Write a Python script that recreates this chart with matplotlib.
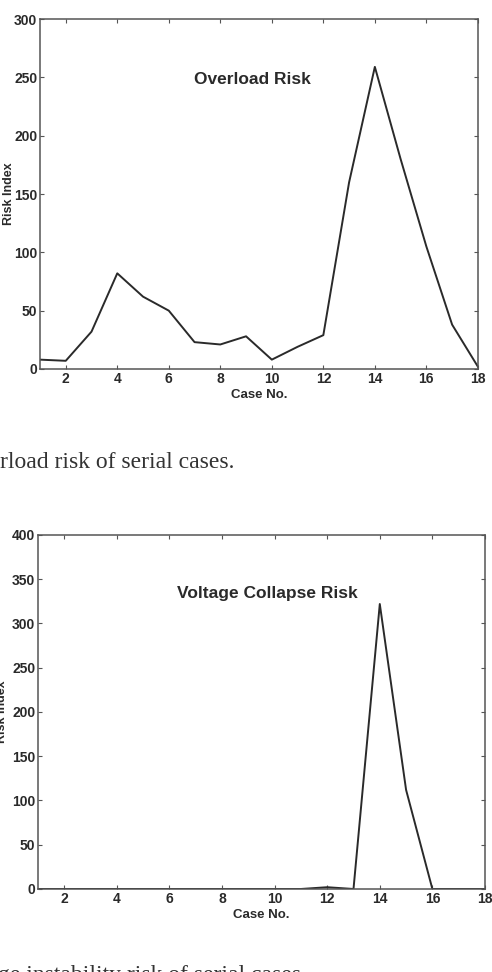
import matplotlib
matplotlib.use("Agg")
from matplotlib import pyplot as plt

# scanned figure: overload risk and voltage collapse risk per case
cases = list(range(1, 19))
overload_risk = [8, 7, 32, 82, 62, 50, 23, 21, 28, 8, 19, 29, 160, 259, 180, 105, 38, 2]
voltage_risk = [0, 0, 0, 0, 0, 0, 0, 0, 0, 0, 0, 2, 0, 322, 112, 0, 0, 0]

x_ticks = [2, 4, 6, 8, 10, 12, 14, 16, 18]
top_yticks = [0, 50, 100, 150, 200, 250, 300]
bottom_yticks = [0, 50, 100, 150, 200, 250, 300, 350, 400]

plt.rcParams["font.family"] = ["Liberation Sans", "DejaVu Sans"]

fig = plt.figure(figsize=(4.92, 9.72), dpi=100)

ink = "#2a2a2a"
frame = "#555555"


def style_axes(ax, yticks, ymax):
    ax.set_xlim(1, 18)
    ax.set_ylim(0, ymax)
    ax.set_xticks(x_ticks)
    ax.set_yticks(yticks)
    ax.tick_params(direction="in", top=True, right=True, length=3, width=0.8,
                   color=frame, labelsize=10, pad=2, labelcolor=ink)
    for lbl in ax.get_xticklabels() + ax.get_yticklabels():
        lbl.set_fontweight("bold")
    for s in ax.spines.values():
        s.set_color(frame)
        s.set_linewidth(1.1)


# top chart
ax1 = fig.add_axes([0.0813, 0.6204, 0.890, 0.360])
ax1.plot(cases, overload_risk, color=ink, linewidth=1.4)
style_axes(ax1, top_yticks, 300)
ax1.text(9.23, 248, "Overload Risk", ha="center", va="center",
         fontsize=12.5, fontweight="bold", color=ink)
ax1.set_xlabel("Case No.", fontsize=9.5, fontweight="bold", color=ink, labelpad=2)
ax1.set_ylabel("Risk Index", fontsize=9, fontweight="bold", color=ink)
ax1.yaxis.set_label_coords(-0.056, 0.5)

fig.text(0.0, 1 - 463 / 972, "rload risk of serial cases.", ha="left", va="center",
         fontsize=17, family="Liberation Serif", color="#333333")

# bottom chart
ax2 = fig.add_axes([0.0772, 0.0854, 0.9085, 0.3642])
ax2.plot(cases, voltage_risk, color=ink, linewidth=1.4)
style_axes(ax2, bottom_yticks, 400)
ax2.text(9.71, 334, "Voltage Collapse Risk", ha="center", va="center",
         fontsize=12.5, fontweight="bold", color=ink)
ax2.set_xlabel("Case No.", fontsize=9.5, fontweight="bold", color=ink, labelpad=2)
ax2.set_ylabel("Risk Index", fontsize=9, fontweight="bold", color=ink)
ax2.yaxis.set_label_coords(-0.066, 0.5)

fig.text(-0.004, 1 - 965 / 972, "ge instability risk of serial cases.", ha="left", va="top",
         fontsize=17, family="Liberation Serif", color="#333333")

fig.savefig("out.png", dpi=100)
